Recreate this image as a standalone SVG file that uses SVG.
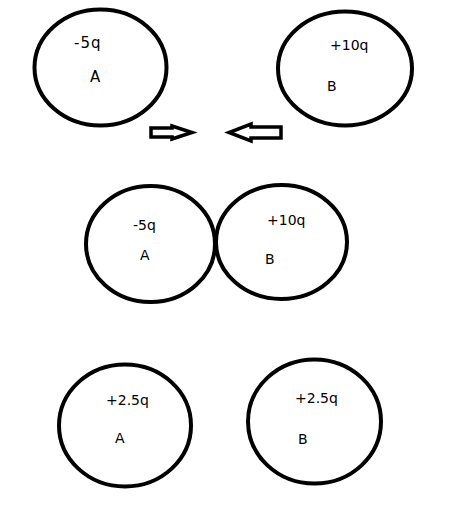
<svg xmlns="http://www.w3.org/2000/svg" width="450" height="517" viewBox="0 0 450 517">
<style>
.b{fill:none;stroke:#000;stroke-width:4}
.t{font-family:"DejaVu Sans",Verdana,sans-serif;font-size:14px;fill:#000}
.ar{fill:#fff;stroke:#000;stroke-width:3.5;stroke-linejoin:miter}
</style>
<rect width="450" height="517" fill="#fff"/>
<g id="topA"><ellipse class="b" cx="100.5" cy="67.5" rx="66" ry="58"/><text class="t" x="74" y="48" style="font-size:15px;letter-spacing:1px">-5q</text><text class="t" x="90" y="82" style="font-size:15px">A</text></g>
<g id="topB"><ellipse class="b" cx="345" cy="68.5" rx="67" ry="57"/><text class="t" x="330" y="50">+10q</text><text class="t" x="327" y="91">B</text></g>
<g id="connectors">
<path class="ar" d="M151,128 H172 V126 L192,132.5 L172,139 V137 H151 Z"/>
<path class="ar" d="M281,127 H251 V124 L229,132.5 L251,141 V138 H281 Z"/>
</g>
<g id="midA"><ellipse class="b" cx="150.5" cy="244" rx="64.5" ry="58"/><text class="t" x="133" y="230">-5q</text><text class="t" x="140" y="260">A</text></g>
<g id="midB"><ellipse class="b" cx="281.5" cy="242" rx="65.5" ry="57"/><text class="t" x="267" y="225">+10q</text><text class="t" x="265" y="264">B</text></g>
<g id="botA"><ellipse class="b" cx="125" cy="425.5" rx="66" ry="61"/><text class="t" x="106" y="405">+2.5q</text><text class="t" x="115" y="443">A</text></g>
<g id="botB"><ellipse class="b" cx="314.5" cy="421.5" rx="66.5" ry="62"/><text class="t" x="295" y="403">+2.5q</text><text class="t" x="298" y="444">B</text></g>
</svg>
